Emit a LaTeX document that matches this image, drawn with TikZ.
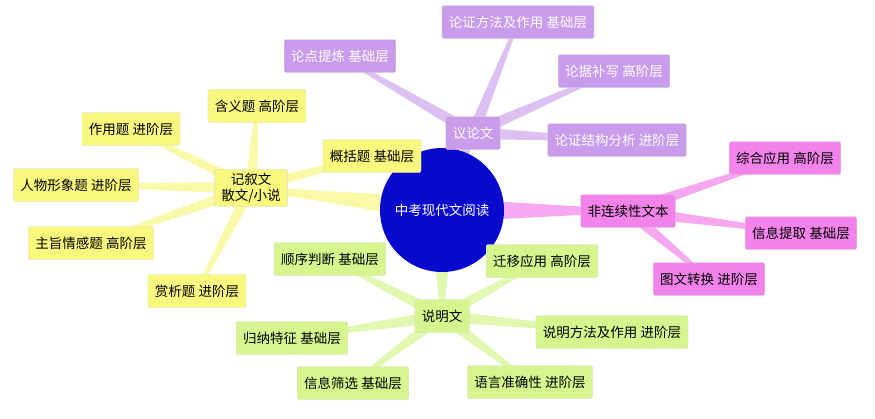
\documentclass[tikz,border=0pt]{standalone}
\usepackage{fontspec}
\newfontfamily\cjk{Noto Sans CJK SC}
\usetikzlibrary{calc}
\definecolor{cblue}{HTML}{0A0ACF}
\definecolor{cpur}{HTML}{C99BEB}
\definecolor{cpurl}{HTML}{DCC0F2}
\definecolor{cpink}{HTML}{F283EA}
\definecolor{cpinkl}{HTML}{F5A8F0}
\definecolor{cyel}{HTML}{F8F77E}
\definecolor{cyell}{HTML}{FAF9A8}
\definecolor{cgrn}{HTML}{D6F58E}
\definecolor{cgrnl}{HTML}{E2F8B0}
\tikzset{
 bx/.style={rounded corners=2pt,inner xsep=7pt,minimum height=33pt,font=\cjk\fontsize{13.5}{16.5}\selectfont,align=center,draw=black!15},
 pu/.style={bx,fill=cpur,text=white},
 pk/.style={bx,fill=cpink,text=black},
 ye/.style={bx,fill=cyel,text=black},
 gr/.style={bx,fill=cgrn,text=black},
}
\newcommand{\br}[4]{\fill[#1] ($(#2)!#4!90:(#3)$) -- ($(#2)!#4!-90:(#3)$) -- ($(#3)!1.5pt!90:(#2)$) -- ($(#3)!1.5pt!-90:(#2)$) -- cycle;}
\begin{document}
\begin{tikzpicture}[x=1pt,y=1pt]
\useasboundingbox (0,0) rectangle (875,-418);
\fill[white] (0,0) rectangle (875,-418);
\coordinate (c) at (442,-210);
\coordinate (pa) at (473,-133);
\coordinate (pb) at (628,-211);
\coordinate (pc) at (251,-188);
\coordinate (pd) at (442,-316);
\br{cpurl}{c}{pa}{12pt}
\br{cpinkl}{c}{pb}{12pt}
\br{cyell}{c}{pc}{12pt}
\br{cgrnl}{c}{pd}{12pt}
\coordinate (a1) at (340,-56); \coordinate (a2) at (518,-22);
\coordinate (a3) at (614,-71); \coordinate (a4) at (617,-140);
\coordinate (b1) at (785,-158); \coordinate (b2) at (801,-233); \coordinate (b3) at (709,-279);
\coordinate (c1) at (257,-106); \coordinate (c2) at (131,-129); \coordinate (c3) at (372,-156);
\coordinate (c4) at (76,-185); \coordinate (c5) at (91,-243); \coordinate (c6) at (197,-291);
\coordinate (d1) at (330,-259); \coordinate (d2) at (542,-261); \coordinate (d3) at (292,-338);
\coordinate (d4) at (612,-332); \coordinate (d5) at (353,-383); \coordinate (d6) at (530,-382);
\foreach \k in {a1,a2,a3,a4} {\br{cpurl}{pa}{\k}{6pt}}
\foreach \k in {b1,b2,b3} {\br{cpinkl}{pb}{\k}{6pt}}
\foreach \k in {c1,c2,c3,c4,c5,c6} {\br{cyell}{pc}{\k}{6pt}}
\foreach \k in {d1,d2,d3,d4,d5,d6} {\br{cgrnl}{pd}{\k}{6pt}}
\node[circle,fill=cblue,minimum size=124pt,text=white,font=\cjk\fontsize{13.5}{16}\selectfont] (n) at (c) {中考现代文阅读};
\node[pu] (na) at (pa) {议论文};
\node[pk] (nb) at (pb) {非连续性文本};
\node[ye] (nc) at (pc) {记叙文\\散文/小说};
\node[gr] (nd) at (pd) {说明文};
\node[pu] (na1) at (a1) {论点提炼 基础层};
\node[pu] (na2) at (a2) {论证方法及作用 基础层};
\node[pu] (na3) at (a3) {论据补写 高阶层};
\node[pu] (na4) at (a4) {论证结构分析 进阶层};
\node[pk] (nb1) at (b1) {综合应用 高阶层};
\node[pk] (nb2) at (b2) {信息提取 基础层};
\node[pk] (nb3) at (b3) {图文转换 进阶层};
\node[ye] (nc1) at (c1) {含义题 高阶层};
\node[ye] (nc2) at (c2) {作用题 进阶层};
\node[ye] (nc3) at (c3) {概括题 基础层};
\node[ye] (nc4) at (c4) {人物形象题 进阶层};
\node[ye] (nc5) at (c5) {主旨情感题 高阶层};
\node[ye] (nc6) at (c6) {赏析题 进阶层};
\node[gr] (nd1) at (d1) {顺序判断 基础层};
\node[gr] (nd2) at (d2) {迁移应用 高阶层};
\node[gr] (nd3) at (d3) {归纳特征 基础层};
\node[gr] (nd4) at (d4) {说明方法及作用 进阶层};
\node[gr] (nd5) at (d5) {信息筛选 基础层};
\node[gr] (nd6) at (d6) {语言准确性 进阶层};
\end{tikzpicture}
\end{document}
